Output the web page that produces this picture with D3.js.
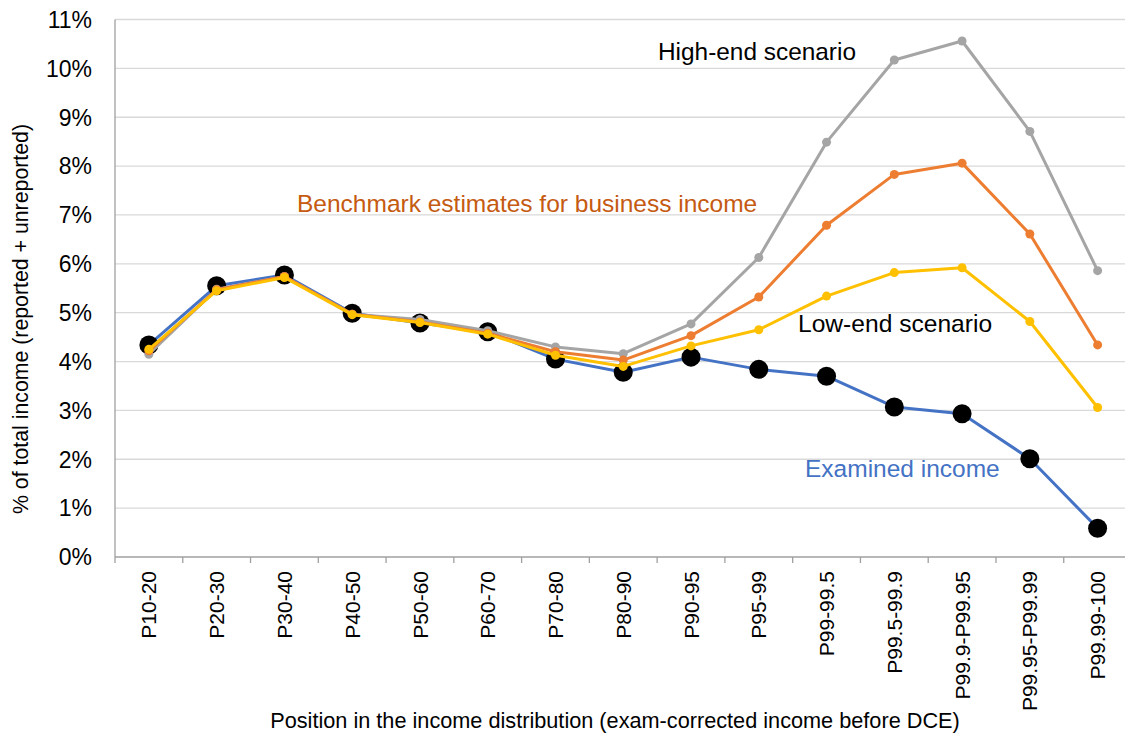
<!DOCTYPE html>
<html><head><meta charset="utf-8">
<script src="https://cdn.jsdelivr.net/npm/d3@7"></script>
<style>body{margin:0;background:#fff}text{font-family:"Liberation Sans",Arial,sans-serif}</style>
</head><body><svg id="c" width="1125" height="736"></svg>
<script>
const categories = ["P10-20","P20-30","P30-40","P40-50","P50-60","P60-70","P70-80","P80-90","P90-95","P95-99","P99-99.5","P99.5-99.9","P99.9-P99.95","P99.95-P99.99","P99.99-100"];
const examined  = [4.34,5.55,5.77,4.99,4.79,4.61,4.05,3.78,4.09,3.84,3.70,3.07,2.93,2.01,0.59];
const highEnd   = [4.15,5.48,5.74,4.97,4.86,4.63,4.30,4.16,4.77,6.13,8.49,10.17,10.56,8.71,5.86];
const benchmark = [4.22,5.47,5.74,4.97,4.81,4.58,4.20,4.03,4.53,5.32,6.79,7.83,8.06,6.61,4.34];
const lowEnd    = [4.25,5.45,5.72,4.96,4.80,4.56,4.13,3.90,4.32,4.65,5.34,5.82,5.92,4.82,3.06];
const yTicks = [0,1,2,3,4,5,6,7,8,9,10,11];

const svg = d3.select("#c");
const x = d3.scaleBand().domain(categories).range([115, 1131.5]).padding(0);
const y = d3.scaleLinear().domain([0, 11]).range([557, 19.5]);
const cx = d => x(d) + x.bandwidth()/2;

// gridlines
svg.append("g").selectAll("line").data(yTicks.filter(t=>t>0)).join("line")
  .attr("x1",115).attr("x2",1125).attr("y1",d=>y(d)).attr("y2",d=>y(d))
  .attr("stroke","#d9d9d9").attr("stroke-width",1.3);

// y axis
svg.append("line").attr("x1",115).attr("x2",115).attr("y1",y(11)).attr("y2",y(0)).attr("stroke","#a0a0a0").attr("stroke-width",1.3);
svg.append("g").selectAll("text").data(yTicks).join("text")
  .attr("x",92).attr("y",d=>y(d)).attr("dy","0.36em").attr("text-anchor","end")
  .attr("font-size",23).attr("fill","#000").text(d=>d+"%");

// x axis
svg.append("line").attr("x1",115).attr("x2",1125).attr("y1",y(0)).attr("y2",y(0)).attr("stroke","#a0a0a0").attr("stroke-width",1.3);
const edges = d3.range(categories.length+1).map(i=>115 + i*x.step());
svg.append("g").selectAll("line").data(edges).join("line")
  .attr("x1",d=>d).attr("x2",d=>d).attr("y1",y(0)).attr("y2",y(0)+6)
  .attr("stroke","#a0a0a0").attr("stroke-width",1.3);
svg.append("g").selectAll("text").data(categories).join("text")
  .attr("transform",d=>`translate(${cx(d)},571) rotate(-90)`)
  .attr("text-anchor","end").attr("dy","0.36em").attr("font-size",21).attr("fill","#000").text(d=>d);

// axis titles
svg.append("text").attr("x",615).attr("y",728).attr("text-anchor","middle").attr("font-size",21.7).attr("fill","#000")
  .text("Position in the income distribution (exam-corrected income before DCE)");
svg.append("text").attr("transform","translate(28,319) rotate(-90)").attr("text-anchor","middle").attr("font-size",21.3).attr("fill","#000")
  .text("% of total income (reported + unreported)");

const line = d3.line().x((d,i)=>cx(categories[i])).y(d=>y(d));
function series(vals, color, r, dotColor, w){
  svg.append("path").attr("d",line(vals)).attr("fill","none").attr("stroke",color).attr("stroke-width",w).attr("stroke-linejoin","round");
  svg.append("g").selectAll("circle").data(vals).join("circle")
    .attr("cx",(d,i)=>cx(categories[i])).attr("cy",d=>y(d)).attr("r",r).attr("fill",dotColor);
}
series(examined, "#4472C4", 9.5, "#000", 3);
series(highEnd, "#A5A5A5", 4.5, "#A5A5A5", 3);
series(benchmark, "#ED7D31", 4.5, "#ED7D31", 3);
series(lowEnd, "#FFC000", 4.5, "#FFC000", 3);

// annotations
svg.append("text").attr("x",658).attr("y",60).attr("font-size",24.4).attr("fill","#000").text("High-end scenario");
svg.append("text").attr("x",297).attr("y",211.5).attr("font-size",24.5).attr("fill","#C55A11").text("Benchmark estimates for business income");
svg.append("text").attr("x",798).attr("y",332).attr("font-size",24.6).attr("fill","#000").text("Low-end scenario");
svg.append("text").attr("x",805).attr("y",477).attr("font-size",24.5).attr("fill","#4472C4").text("Examined income");
</script></body></html>
